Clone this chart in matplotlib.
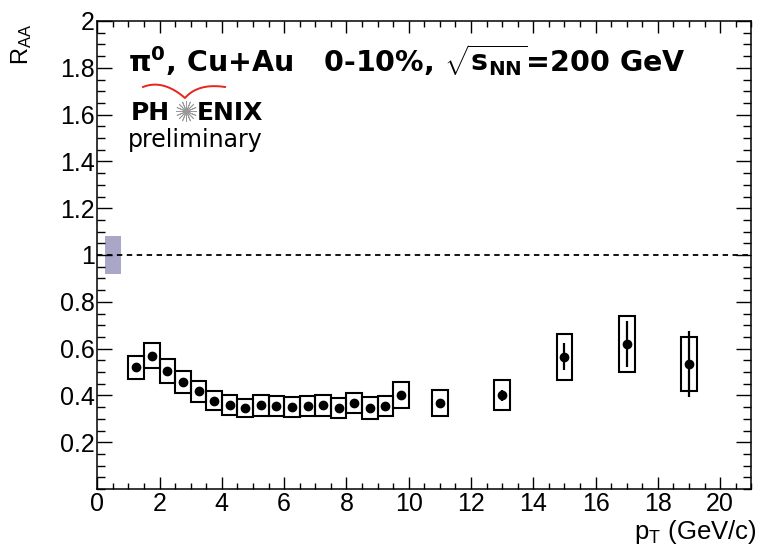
import numpy as np
import matplotlib
matplotlib.use('Agg')
import matplotlib.pyplot as plt
from matplotlib.lines import Line2D
from matplotlib.ticker import MultipleLocator, FormatStrFormatter

plt.rcParams['font.family'] = ['Liberation Sans', 'DejaVu Sans']
plt.rcParams['mathtext.fontset'] = 'custom'
plt.rcParams['mathtext.rm'] = 'Liberation Sans'
plt.rcParams['mathtext.it'] = 'Liberation Sans:italic'
plt.rcParams['mathtext.bf'] = 'DejaVu Sans:bold'

# pi0 R_AA in Cu+Au 0-10%, low pT bins (0.5 GeV wide)
pt_low = [1.25, 1.75, 2.25, 2.75, 3.25, 3.75, 4.25, 4.75, 5.25,
          5.75, 6.25, 6.75, 7.25, 7.75, 8.25, 8.75, 9.25, 9.75]
raa_low = [0.52, 0.57, 0.505, 0.458, 0.418, 0.378, 0.358, 0.345, 0.357,
           0.354, 0.35, 0.354, 0.357, 0.348, 0.368, 0.347, 0.355, 0.403]
sys_low = [0.048, 0.052, 0.05, 0.048, 0.045, 0.041, 0.043, 0.039, 0.044,
           0.044, 0.043, 0.043, 0.043, 0.043, 0.044, 0.046, 0.043, 0.055]
stat_low = [0.005] * 18

# high pT bins
pt_high = [11, 13, 15, 17, 19]
raa_high = [0.367, 0.40, 0.565, 0.62, 0.535]
sys_high = [0.056, 0.064, 0.098, 0.12, 0.116]
stat_high = [0.01, 0.024, 0.058, 0.10, 0.14]

# global normalisation uncertainty
norm_x = 0.5
norm_err = 0.08

pt = np.array(pt_low + pt_high)
raa = np.array(raa_low + raa_high)
sys_err = np.array(sys_low + sys_high)
stat_err = np.array(stat_low + stat_high)

W, H = 760, 551
fig = plt.figure(figsize=(7.6, 5.51), dpi=100)
ax = fig.add_axes([97.3 / W, 1 - 489 / H, 654 / W, 468 / H])

# normalisation box at unity
ax.bar([norm_x], [2 * norm_err], bottom=1 - norm_err, width=0.5,
       color='#aaa6c8', linewidth=0, zorder=1)
ax.axhline(1, color='k', ls=(0, (3, 2.5)), lw=1.3, zorder=2)

# systematic boxes
ax.bar(pt, 2 * sys_err, bottom=raa - sys_err, width=0.5, fill=False,
       edgecolor='k', linewidth=1.5, zorder=3)
# points with stat errors
ax.errorbar(pt, raa, yerr=stat_err, fmt='o', color='k', ms=6,
             elinewidth=1.6, capsize=0, zorder=4)

ax.set_xlim(0, 21)
ax.set_ylim(0, 2)
ax.xaxis.set_major_locator(MultipleLocator(2))
ax.xaxis.set_minor_locator(MultipleLocator(0.5))
ax.yaxis.set_major_locator(MultipleLocator(0.2))
ax.yaxis.set_minor_locator(MultipleLocator(0.05))
ax.yaxis.set_major_formatter(FormatStrFormatter('%g'))
ax.set_yticks(np.arange(0.2, 2.01, 0.2))
ax.tick_params(which='both', direction='in', top=True, right=True,
               labelsize=18, width=1)
ax.tick_params(axis='x', which='major', length=8.6, pad=2.5)
ax.tick_params(axis='x', which='minor', length=4.3)
ax.tick_params(axis='y', which='major', length=10.8, pad=2)
ax.tick_params(axis='y', which='minor', length=5.8)
for s in ax.spines.values():
    s.set_linewidth(1.1)

# axis titles
fig.text(757 / W, 1 - 539 / H, r'p$_{\mathrm{T}}$ (GeV/c)', fontsize=18.5,
         ha='right', va='baseline')
fig.text(9 / W, 1 - 24 / H, r'R$_{\mathrm{AA}}$', fontsize=17,
         rotation=90, ha='left', va='top')

# header
fig.text(128 / W, 1 - 72 / H,
         r'π$^{\mathbf{0}}$, Cu+Au   0-10%, $\sqrt{\mathbf{s}_{\mathbf{NN}}}$=200 GeV',
         fontsize=20.5, fontweight='bold', family='DejaVu Sans', va='baseline')

# PHENIX preliminary logo
fig.text(131 / W, 1 - 120 / H, 'PH', fontsize=18, fontweight='bold',
         family='DejaVu Sans', va='baseline')
fig.text(197 / W, 1 - 120 / H, 'ENIX', fontsize=18, fontweight='bold',
         family='DejaVu Sans', va='baseline')
fig.add_artist(Line2D([186 / W], [1 - 111 / H], marker=(16, 2, 0),
                      markersize=15, markeredgewidth=0.6, color='#999999'))
tt = np.linspace(0, 1, 30)
arc_x = np.r_[(1 - tt) ** 2 * 143 + 2 * tt * (1 - tt) * 163 + tt ** 2 * 185,
              (1 - tt) ** 2 * 185 + 2 * tt * (1 - tt) * 198 + tt ** 2 * 225]
arc_y = np.r_[(1 - tt) ** 2 * 87 + 2 * tt * (1 - tt) * 79 + tt ** 2 * 98,
              (1 - tt) ** 2 * 98 + 2 * tt * (1 - tt) * 83 + tt ** 2 * 87]
fig.add_artist(Line2D(arc_x / W, 1 - arc_y / H, color='#e8241c', lw=1.4))
fig.text(128 / W, 1 - 147 / H, 'preliminary', fontsize=17,
         family='DejaVu Sans', va='baseline')

fig.savefig('out.png', dpi=100)
